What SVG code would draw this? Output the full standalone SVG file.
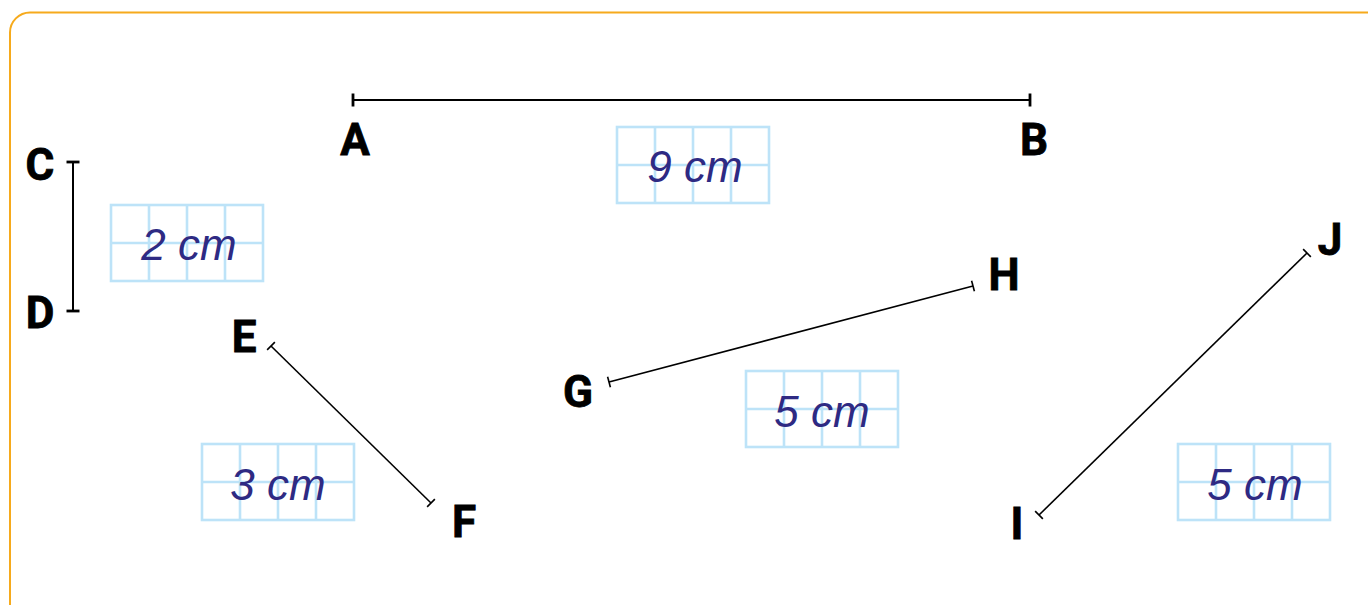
<svg xmlns="http://www.w3.org/2000/svg" width="1368" height="605" viewBox="0 0 1368 605">
<style>
.frame{fill:none;stroke:#F6AA1C;stroke-width:2}
.val{font-family:"Liberation Sans",Arial,sans-serif;font-style:italic;font-size:44px;fill:#2E2A83;text-anchor:middle}
.lbl{font-family:Roboto,"Liberation Sans",sans-serif;font-weight:700;font-size:44px;fill:#000;stroke:#000;stroke-width:0.8;text-anchor:middle}
.seg{stroke:#000;fill:none}
.thick{stroke-width:2;marker-start:url(#tk2);marker-end:url(#tk2)}
.thin{stroke-width:1.6;marker-start:url(#tk1);marker-end:url(#tk1)}
</style>
<defs>
<marker id="tk2" markerUnits="userSpaceOnUse" viewBox="-2 -8 4 16" refX="0" refY="0" markerWidth="4" markerHeight="16" orient="auto">
<line x1="0" y1="-6.5" x2="0" y2="6.5" stroke="#000" stroke-width="2.8"/>
</marker>
<marker id="tk1" markerUnits="userSpaceOnUse" viewBox="-2 -7 4 14" refX="0" refY="0" markerWidth="4" markerHeight="14" orient="auto">
<line x1="0" y1="-5.5" x2="0" y2="5.5" stroke="#000" stroke-width="1.6"/>
</marker>
<g id="cells" fill="none" stroke="#BDE3F8" stroke-width="2.6">
<rect x="0" y="0" width="152" height="76"/>
<line x1="38" y1="0" x2="38" y2="76"/>
<line x1="76" y1="0" x2="76" y2="76"/>
<line x1="114" y1="0" x2="114" y2="76"/>
<line x1="0" y1="38" x2="152" y2="38"/>
</g>
</defs>
<rect class="frame" x="10" y="12.5" width="1390" height="640" rx="20"/>
<g id="connectors">
<line class="seg thick" x1="353" y1="100" x2="1030" y2="100"/>
<line class="seg thick" x1="73" y1="162" x2="73" y2="311"/>
<line class="seg thin" x1="271" y1="346" x2="431" y2="503"/>
<line class="seg thin" x1="609" y1="382" x2="973" y2="286"/>
<line class="seg thin" x1="1039" y1="515" x2="1307" y2="253"/>
</g>
<g id="point-A"><text class="lbl" x="355" y="155">A</text></g>
<g id="point-B"><text class="lbl" x="1034" y="155">B</text></g>
<g id="point-C"><text class="lbl" x="40" y="180">C</text></g>
<g id="point-D"><text class="lbl" x="40" y="328">D</text></g>
<g id="point-E"><text class="lbl" x="244" y="352">E</text></g>
<g id="point-F"><text class="lbl" x="464" y="537">F</text></g>
<g id="point-G"><text class="lbl" x="578" y="407">G</text></g>
<g id="point-H"><text class="lbl" x="1004" y="290">H</text></g>
<g id="point-I"><text class="lbl" x="1017" y="539">I</text></g>
<g id="point-J"><text class="lbl" x="1330" y="255">J</text></g>
<g id="box-9cm"><use href="#cells" x="617" y="127"/><text class="val" x="695" y="182">9 cm</text></g>
<g id="box-2cm"><use href="#cells" x="111" y="205"/><text class="val" x="189" y="260">2 cm</text></g>
<g id="box-3cm"><use href="#cells" x="202" y="444"/><text class="val" x="278" y="500">3 cm</text></g>
<g id="box-5cm-gh"><use href="#cells" x="746" y="371"/><text class="val" x="822" y="427">5 cm</text></g>
<g id="box-5cm-ij"><use href="#cells" x="1178" y="444"/><text class="val" x="1255" y="500">5 cm</text></g>
</svg>
